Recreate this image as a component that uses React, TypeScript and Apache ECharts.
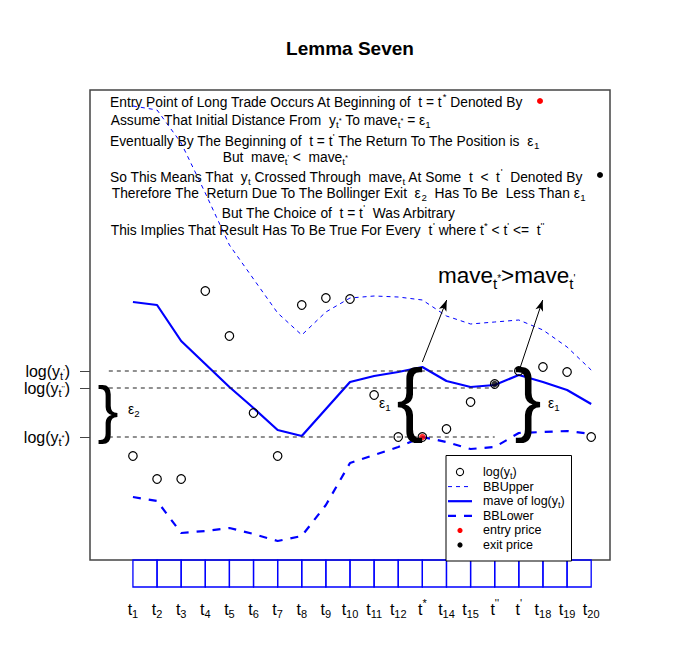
import React, { useEffect, useRef } from 'react';
import * as echarts from 'echarts';

const FF = "'Liberation Sans', Arial, Helvetica, sans-serif";

// ---- data ----
const tIndex = [1, 2, 3, 4, 5, 6, 7, 8, 9, 10, 11, 12, 13, 14, 15, 16, 17, 18, 19, 20];
const logY = [1.04, 0.81, 0.81, 2.69, 2.24, 1.47, 1.04, 2.55, 2.62, 2.61, 1.65, 1.23, 1.23, 1.31, 1.58, 1.76, 1.89, 1.93, 1.88, 1.23];
const mave = [2.58, 2.55, 2.19, 1.96, 1.73, 1.52, 1.30, 1.24, 1.51, 1.78, 1.84, 1.88, 1.93, 1.79, 1.73, 1.75, 1.85, 1.78, 1.70, 1.56];
const bbUpper = [4.54, 4.50, 4.17, 3.67, 3.15, 2.81, 2.47, 2.25, 2.48, 2.62, 2.64, 2.63, 2.60, 2.44, 2.36, 2.38, 2.40, 2.30, 2.13, 1.90];
const bbLower = [0.63, 0.59, 0.27, 0.29, 0.32, 0.26, 0.19, 0.24, 0.55, 0.97, 1.05, 1.13, 1.23, 1.18, 1.11, 1.13, 1.27, 1.28, 1.29, 1.26];
const entryT = 13;
const exitT = 16;
const levelValues = [1.89, 1.72, 1.23];
const levelEnds = [17, 16, 16];
const levelSups = ["'", "''", '*'];
const tickSubs = ['1', '2', '3', '4', '5', '6', '7', '8', '9', '10', '11', '12', '', '14', '15', '', '', '18', '19', '20'];
const tickSups = ['', '', '', '', '', '', '', '', '', '', '', '', '*', '', '', "''", "'", '', '', ''];
const arrows = [
  [[13.0, 1.98], [14.01, 2.6]],
  [[17.05, 1.92], [17.99, 2.6]],
];
const legendLabels = ['{n|log(y}{b|t}{n|)}', '{n|BBUpper}', '{n|mave of log(y}{b|t}{n|)}', '{n|BBLower}', '{n|entry price}', '{n|exit price}'];
const textLines = [
  '{n|Entry Point of Long Trade Occurs At Beginning of  t = t}{p|*}{n| Denoted By}',
  '{n|Assume That Initial Distance From  y}{b|t}{q|*}{n| To mave}{b|t}{q|*}{n| = ε}{b|1}',
  "{n|Eventually By The Beginning of  t = t}{p|'}{n| The Return To The Position is  ε}{b|1}",
  "{n|But  mave}{b|t}{q|'}{n| <  mave}{b|t}{q|*}",
  "{n|So This Means That  y}{b|t}{n| Crossed Through  mave}{b|t}{n| At Some  t  <  t}{p|'}{n|  Denoted By}",
  '{n|Therefore The  Return Due To The Bollinger Exit  ε}{b|2}{n|  Has To Be  Less Than ε}{b|1}',
  "{n|But The Choice of  t = t}{p|'}{n|  Was Arbitrary}",
  "{n|This Implies That Result Has To Be True For Every  t}{p|'}{n| where t}{p|*}{n| < t}{p|'}{n| <=  t}{p|''}",
];
const textX = [110, 110.7, 110, 222.7, 110, 111.7, 221.7, 110.7];
const textY = [102, 120.3, 141.3, 157, 177, 193.3, 213, 230.3];

// ---- helpers ----
const tok = (size: number, off: number, L = 30, color = '#000') => ({
  fontSize: size,
  fontFamily: FF,
  color,
  fill: color,
  lineHeight: L,
  height: 0,
  verticalAlign: 'bottom',
  padding: [0, 0, L / 2 - off, 0],
});

const bodyRich = { n: tok(13.8, 0), b: tok(9.7, 4.5), p: tok(9.7, -5.2), q: tok(7.5, 0.5) };
const legendRich = { n: tok(12.5, 0), b: tok(9, 4) };
const axisRich = { m: tok(16, 0, 14), b: tok(11, 5.2, 14), p: tok(11, -6, 14), q: tok(8, 0.5, 14) };
const xRich = { m: tok(16, 0), b: tok(11, 5.2), p: tok(11, -6), q: tok(8, 0.5) };
const bigRich = { n: tok(22.5, 0), b: tok(15, 8), q: tok(10, 3) };

const richText = (x: number, y: number, text: string, rich: any, z = 50) => ({
  type: 'text',
  x,
  y,
  z,
  silent: true,
  style: { text, rich, align: 'left', verticalAlign: 'middle', textAlign: 'left', textVerticalAlign: 'middle', fill: '#000' },
});

const plainText = (x: number, y: number, text: string, size: number) => ({
  type: 'text',
  x,
  y,
  z: 50,
  silent: true,
  style: {
    text,
    fontSize: size,
    fontFamily: FF,
    fill: '#000',
    align: 'center',
    verticalAlign: 'middle',
    textAlign: 'center',
    textVerticalAlign: 'middle',
  },
});

function buildOption(): any {
  const legendY0 = 472;
  const legendStep = 14.6;
  const legendEls: any[] = [
    {
      type: 'rect',
      z: 40,
      silent: true,
      shape: { x: 446, y: 455.5, width: 125.5, height: 105.5 },
      style: { fill: '#fff', stroke: '#000', lineWidth: 1 },
    },
  ];
  legendLabels.forEach((lab, i) => {
    const y = legendY0 + i * legendStep;
    legendEls.push(richText(483, y, lab, legendRich, 45));
    if (i === 0)
      legendEls.push({ type: 'circle', z: 45, silent: true, shape: { cx: 460, cy: y, r: 3.6 }, style: { fill: 'none', stroke: '#000', lineWidth: 1.1 } });
    if (i === 1)
      legendEls.push({ type: 'line', z: 45, silent: true, shape: { x1: 448, y1: y, x2: 472, y2: y }, style: { stroke: '#0000ff', lineWidth: 1, lineDash: [4, 4] } });
    if (i === 2)
      legendEls.push({ type: 'line', z: 45, silent: true, shape: { x1: 448, y1: y, x2: 472, y2: y }, style: { stroke: '#0000ff', lineWidth: 2.2 } });
    if (i === 3)
      legendEls.push({ type: 'line', z: 45, silent: true, shape: { x1: 448, y1: y, x2: 472, y2: y }, style: { stroke: '#0000ff', lineWidth: 2.2, lineDash: [8, 8] } });
    if (i === 4)
      legendEls.push({ type: 'circle', z: 45, silent: true, shape: { cx: 460, cy: y, r: 2.6 }, style: { fill: '#ff0000' } });
    if (i === 5)
      legendEls.push({ type: 'circle', z: 45, silent: true, shape: { cx: 460, cy: y, r: 2.6 }, style: { fill: '#000' } });
  });

  const textEls = textLines.map((t, i) => richText(textX[i], textY[i], t, bodyRich));

  const graphic: any[] = [
    ...textEls,
    { type: 'circle', z: 50, silent: true, shape: { cx: 540, cy: 101, r: 3 }, style: { fill: '#ff0000' } },
    { type: 'circle', z: 50, silent: true, shape: { cx: 600, cy: 175, r: 3 }, style: { fill: '#000' } },
    richText(438, 275, "{n|mave}{b|t}{q|*}{n|>mave}{b|t}{q|'}", bigRich),
    plainText(108, 408.5, '}', 63),
    plainText(410, 398, '{', 81),
    plainText(528, 398, '}', 81),
    richText(128, 409, '{n|ε}{b|2}', bodyRich),
    richText(379, 403, '{n|ε}{b|1}', bodyRich),
    richText(548, 403, '{n|ε}{b|1}', bodyRich),
    ...legendEls,
  ];

  const levelSeries = levelValues.map((v, k) => ({
    type: 'line',
    silent: true,
    xAxisIndex: 0,
    yAxisIndex: 0,
    data: [
      [0, v],
      [levelEnds[k], v],
    ],
    symbol: 'none',
    lineStyle: { color: '#222', width: 1.1, type: [4, 4] },
    z: 2,
  }));

  // one left axis per labelled level, so that no label is hidden as overlapping
  const levelAxes = levelValues.map((v, k) => ({
    gridIndex: 0,
    type: 'value',
    position: 'left',
    offset: 0,
    min: 0,
    max: 4.7,
    axisLine: { show: false },
    splitLine: { show: false },
    axisTick: { show: true, customValues: [v], length: 10, inside: false, lineStyle: { color: '#444', width: 1 } },
    axisLabel: {
      show: true,
      customValues: [v],
      margin: 20,
      hideOverlap: false,
      formatter: () => `{m|log(y}{b|t}{q|${levelSups[k]}}{m|)}`,
      rich: axisRich,
    },
  }));

  return {
    animation: false,
    backgroundColor: '#fff',
    title: {
      text: 'Lemma Seven',
      left: 'center',
      top: 38.5,
      padding: 0,
      textStyle: { fontSize: 19, fontWeight: 'bold', fontFamily: FF, color: '#000', lineHeight: 19 },
    },
    grid: [
      { left: 90, top: 90, width: 520, height: 470, show: true, borderColor: '#444', borderWidth: 1.5, backgroundColor: 'transparent' },
      { left: 90, top: 560, width: 520, height: 27, show: false },
    ],
    xAxis: [
      { gridIndex: 0, type: 'value', min: -0.78, max: 20.78, show: false },
      {
        gridIndex: 1,
        type: 'value',
        min: -0.78,
        max: 20.78,
        axisLine: { show: false },
        axisTick: { show: false },
        splitLine: { show: false },
        axisLabel: {
          show: true,
          customValues: tIndex,
          margin: 7,
          hideOverlap: false,
          formatter: (v: number) => {
            const i = Math.round(v) - 1;
            return tickSups[i] ? `{m|t}{p|${tickSups[i]}}` : `{m|t}{b|${tickSubs[i]}}`;
          },
          rich: xRich,
        },
      },
    ],
    yAxis: [
      { gridIndex: 0, type: 'value', min: 0, max: 4.7, show: false },
      { gridIndex: 1, type: 'value', min: 0, max: 1, show: false },
      ...levelAxes,
    ],
    graphic,
    series: [
      {
        type: 'line',
        name: 'BBUpper',
        silent: true,
        data: tIndex.map((t, i) => [t, bbUpper[i]]),
        symbol: 'none',
        lineStyle: { color: '#0000ff', width: 1, type: [4, 4] },
        z: 2,
      },
      {
        type: 'line',
        name: 'mave of log(y)',
        silent: true,
        data: tIndex.map((t, i) => [t, mave[i]]),
        symbol: 'none',
        lineStyle: { color: '#0000ff', width: 2.2 },
        z: 2,
        markLine: {
          silent: true,
          symbol: ['none', 'arrow'],
          symbolSize: [6, 11],
          label: { show: false },
          emphasis: { disabled: true },
          lineStyle: { color: '#000', width: 1, type: 'solid' },
          data: arrows.map((a) => [{ coord: a[0] }, { coord: a[1] }]),
        },
      },
      {
        type: 'line',
        name: 'BBLower',
        silent: true,
        data: tIndex.map((t, i) => [t, bbLower[i]]),
        symbol: 'none',
        lineStyle: { color: '#0000ff', width: 2.2, type: [8, 8] },
        z: 2,
      },
      ...levelSeries,
      {
        type: 'scatter',
        name: 'log(y)',
        silent: true,
        data: tIndex.map((t, i) => [t, logY[i]]),
        symbol: 'circle',
        symbolSize: 8.5,
        itemStyle: { color: 'transparent', borderColor: '#000', borderWidth: 1.2, opacity: 1 },
        z: 3,
      },
      {
        type: 'scatter',
        name: 'entry price',
        silent: true,
        data: [[entryT, logY[entryT - 1]]],
        symbol: 'circle',
        symbolSize: 6.5,
        itemStyle: { color: '#ff0000' },
        z: 4,
      },
      {
        type: 'scatter',
        name: 'exit price',
        silent: true,
        data: [[exitT, logY[exitT - 1]]],
        symbol: 'circle',
        symbolSize: 6.5,
        itemStyle: { color: '#000' },
        z: 4,
      },
      {
        type: 'custom',
        silent: true,
        xAxisIndex: 1,
        yAxisIndex: 1,
        data: tIndex.slice(0, tIndex.length - 1).map((t) => [t, 0]),
        renderItem: (params: any, api: any) => {
          const i = api.value(0);
          const p0 = api.coord([i, 1]);
          const p1 = api.coord([i + 1, 0]);
          return {
            type: 'rect',
            shape: { x: p0[0], y: p0[1], width: p1[0] - p0[0], height: p1[1] - p0[1] },
            style: { fill: 'none', stroke: '#0000ff', lineWidth: 1.3 },
          };
        },
      },
    ],
  };
}

export default function App() {
  const ref = useRef<HTMLDivElement>(null);
  useEffect(() => {
    document.body.style.margin = '0';
    const chart = echarts.init(ref.current as HTMLDivElement, null, { renderer: 'svg' });
    chart.setOption(buildOption());
    return () => chart.dispose();
  }, []);
  return <div ref={ref} style={{ width: 700, height: 650 }} />;
}
